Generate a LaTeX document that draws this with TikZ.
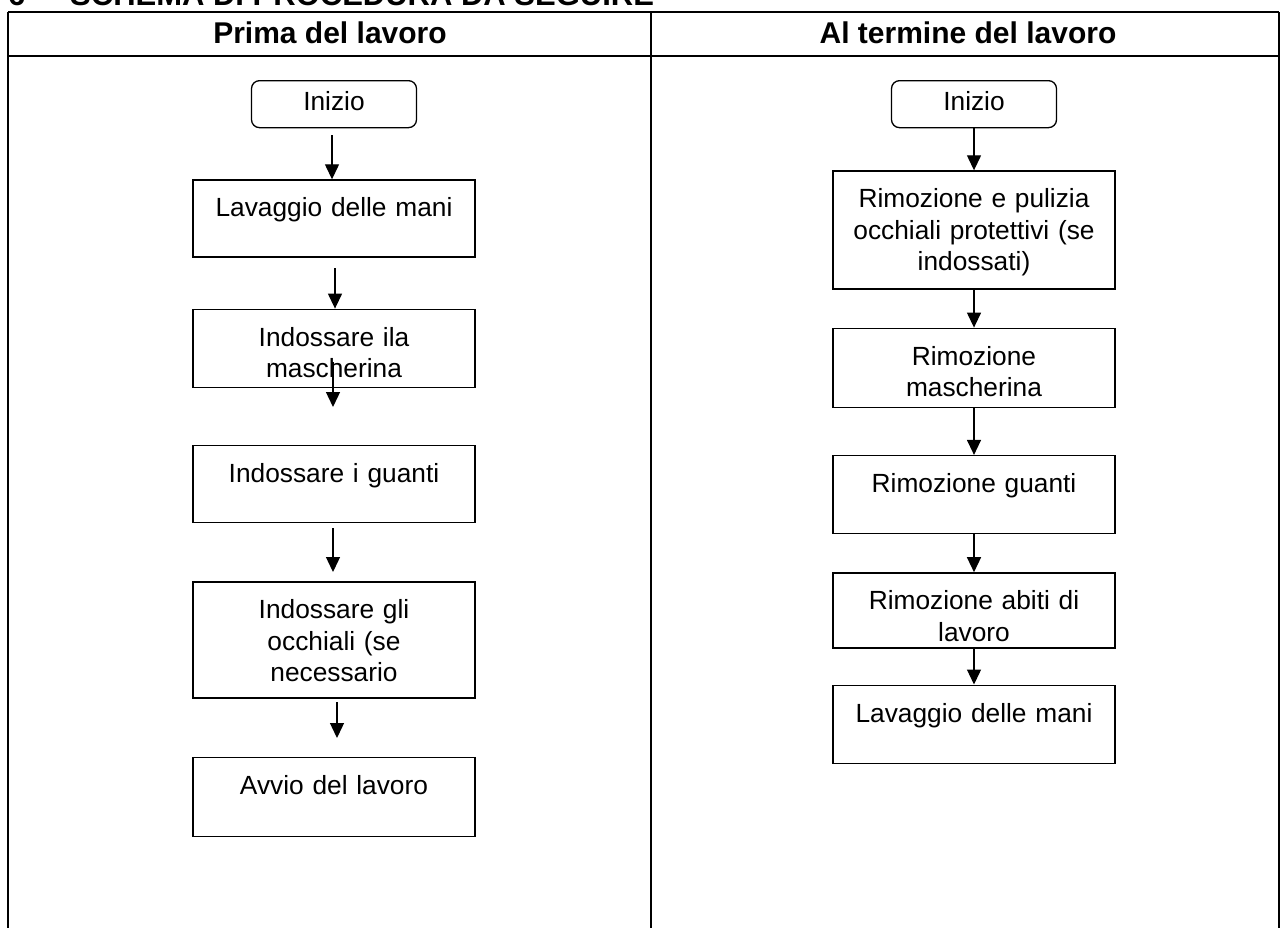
\documentclass[tikz,border=0pt]{standalone}
\usepackage{fontspec}
\setmainfont{Liberation Sans}
\usetikzlibrary{arrows.meta, positioning}
\newcommand{\boxfont}{\fontsize{26.3}{31.5}\selectfont}
\newcommand{\headfont}{\fontsize{30}{36}\selectfont\bfseries}
\newcommand{\titlefont}{\fontsize{31}{37}\selectfont\bfseries}
\tikzset{
x=1pt, y=-1pt, % one unit is one pixel of the page, y grows downwards
arr/.style={-{Triangle[length=15pt, width=14pt]}, line width=1.3pt}, % filled arrow heads
stepbox/.style={draw, line width=1.3pt, anchor=north, font=\boxfont, text width=262pt, align=center, inner xsep=10pt, inner ysep=0pt, text height=37pt}, % text sits at the top of the box
startbox/.style={draw, line width=1.3pt, rounded corners=8pt, anchor=north, font=\boxfont, minimum width=165pt, inner ysep=0pt, text height=30pt, text depth=17pt},
tableline/.style={line width=2pt},
headtext/.style={anchor=base, font=\headfont},
}
\begin{document}
\begin{tikzpicture}
\useasboundingbox (0,0) rectangle (1281,927);

% title, cut by the top of the page
\node[anchor=base west, font=\titlefont, inner sep=0pt] (num) at (8,5) {6};
\node[anchor=base west, font=\titlefont, inner sep=0pt] (title) at (70,5) {SCHEMA DI PROCEDURA DA SEGUIRE};

% table
\draw[tableline] (8,12) -- (1279,12);
\draw[tableline] (8,56) -- (1279,56);
\draw[tableline] (8,12) -- (8,930);
\draw[tableline] (651,12) -- (651,930);
\draw[tableline] (1279,12) -- (1279,930);
\node[headtext] (hl) at (330,43) {Prima del lavoro};
\node[headtext] (hr) at (968,43) {Al termine del lavoro};

% before work
\node[startbox] (li) at (334,80) {Inizio};
\node[stepbox, text depth=40pt, below=51pt of li] (l1) {Lavaggio delle mani};
\node[stepbox, text depth=41pt, below=51pt of l1] (l2) {Indossare ila\\ mascherina};
\node[stepbox, text depth=40pt, below=57pt of l2] (l3) {Indossare i guanti};
\node[stepbox, text depth=79pt, below=58pt of l3] (l4) {Indossare gli\\ occhiali (se\\ necessario};
\node[stepbox, text depth=42pt, below=58pt of l4] (l5) {Avvio del lavoro};

\coordinate (a1) at (332,135);
\coordinate (a2) at (335,268);
\coordinate (a3) at (333,362);
\coordinate (b3) at (333,407);
\coordinate (a4) at (333,528);
\coordinate (b4) at (333,572);
\coordinate (a5) at (337,702);
\coordinate (b5) at (337,738);
\draw[arr] (a1) -- (a1 |- l1.north);
\draw[arr] (a2) -- (a2 |- l2.north);
\draw[arr] (a3) -- (b3);
\draw[arr] (a4) -- (b4);
\draw[arr] (a5) -- (b5);

% after work
\node[startbox] (ri) at (974,80) {Inizio};
\node[stepbox, text depth=81pt, below=42pt of ri] (r1) {Rimozione e pulizia\\ occhiali protettivi (se\\ indossati)};
\node[stepbox, text depth=42pt, below=38pt of r1] (r2) {Rimozione\\ mascherina};
\node[stepbox, text depth=41pt, below=47pt of r2] (r3) {Rimozione guanti};
\node[stepbox, text depth=38pt, below=38pt of r3] (r4) {Rimozione abiti di\\ lavoro};
\node[stepbox, text depth=41pt, below=36pt of r4] (r5) {Lavaggio delle mani};

\draw[arr] (ri) -- (r1);
\draw[arr] (r1) -- (r2);
\draw[arr] (r2) -- (r3);
\draw[arr] (r3) -- (r4);
\draw[arr] (r4) -- (r5);
\end{tikzpicture}
\end{document}
